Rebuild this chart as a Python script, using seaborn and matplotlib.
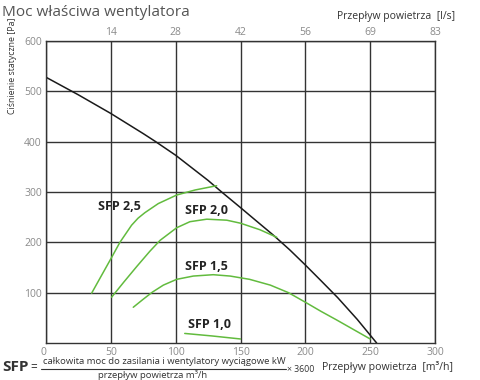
import matplotlib
matplotlib.use("Agg")
import matplotlib.pyplot as plt
import seaborn as sns
import pandas as pd
from matplotlib.lines import Line2D

# ---- data ----
fan_flow = [0, 25, 50, 75, 84, 100, 112, 125, 135, 150, 162, 175, 188, 200, 212, 225, 240, 255]
fan_pressure = [528, 493, 456, 416, 401, 373, 349, 323, 301, 269, 243, 215, 185, 155, 124, 90, 47, 0]

sfp25_flow = [35.2, 43, 50.6, 57, 66, 71, 76.3, 86.6, 100.8, 115, 131.6]
sfp25_pressure = [99, 135, 170, 200, 234, 248, 259, 277, 294, 304, 312.5]

sfp20_flow = [50.6, 60, 70, 80, 88, 100.8, 111, 124, 139.4, 150, 165, 178]
sfp20_pressure = [91, 121, 152, 182, 204, 229, 241, 246, 244, 238, 225, 210]

sfp15_flow = [67.3, 75, 82, 90.5, 100.8, 113.6, 129, 142, 157, 173, 187, 200, 212, 224, 237, 250]
sfp15_pressure = [71, 87, 101, 115, 126.5, 133, 135.7, 133, 126.5, 115, 100, 81, 63, 46, 27, 8]

sfp10_flow = [107, 128, 150]
sfp10_pressure = [19, 14, 8]

sfp_labels = ["SFP 2,5", "SFP 2,0", "SFP 1,5", "SFP 1,0"]
label_flow = [57, 124, 124, 126]
label_pressure = [272, 263, 152, 36]

x_ticks = [0, 50, 100, 150, 200, 250, 300]
y_ticks = [100, 200, 300, 400, 500, 600]
top_ticks = [50, 100, 150, 200, 250, 300]
top_tick_labels = ["14", "28", "42", "56", "69", "83"]

title = "Moc właściwa wentylatora"
ylabel = "Ciśnienie statyczne [Pa]"
xlabel = "Przepływ powietrza  [m³/h]"
top_label = "Przepływ powietrza  [l/s]"
formula_num = "całkowita moc do zasilania i wentylatory wyciągowe kW"
formula_den = "przepływ powietrza m³/h"

# ---- style ----
sns.set_style("white")
plt.rcParams["font.family"] = ["Open Sans", "DejaVu Sans"]

GREEN = "#62bb3e"
GRID = "#333333"
TICKC = "#8a8a8a"
TXT = "#333333"

fig = plt.figure(figsize=(4.8, 3.8), dpi=100)
ax = fig.add_axes([46 / 480, 1 - 343 / 380, (435 - 46) / 480, (343 - 41) / 380])

ax.set_xlim(0, 300)
ax.set_ylim(0, 600)
ax.set_xticks(x_ticks)
ax.set_yticks(y_ticks)
ax.grid(True, color=GRID, linewidth=1.0)
for s in ax.spines.values():
    s.set_color(GRID)
    s.set_linewidth(1.0)
ax.tick_params(axis="both", length=0, colors=TICKC, labelsize=7.5)
ax.tick_params(axis="x", pad=3)
ax.tick_params(axis="y", pad=3)

fan_df = pd.DataFrame({"flow": fan_flow, "p": fan_pressure})
sns.lineplot(data=fan_df, x="flow", y="p", ax=ax, color="#1a1a1a", linewidth=1.1,
             sort=False, estimator=None)
for fl, pr in [(sfp25_flow, sfp25_pressure), (sfp20_flow, sfp20_pressure),
               (sfp15_flow, sfp15_pressure), (sfp10_flow, sfp10_pressure)]:
    d = pd.DataFrame({"flow": fl, "p": pr})
    sns.lineplot(data=d, x="flow", y="p", ax=ax, color=GREEN, linewidth=1.1,
                 sort=False, estimator=None)

for lab, lx, ly in zip(sfp_labels, label_flow, label_pressure):
    ax.text(lx, ly, lab, ha="center", va="center", fontsize=9, fontweight="bold",
            color="#222222")

ax.set_xlabel("")
ax.set_ylabel("")
ax.get_xticklabels()[0].set_ha("right")

# top axis
ax2 = ax.twiny()
ax2.set_xlim(ax.get_xlim())
ax2.set_xticks(top_ticks)
ax2.set_xticklabels(top_tick_labels)
ax2.tick_params(axis="x", length=0, colors=TICKC, labelsize=7.5, pad=2)
for s in ax2.spines.values():
    s.set_visible(False)

# texts
fig.text(2 / 480, 1 - 16 / 380, title, ha="left", va="baseline", fontsize=11.1,
         color="#555555")
fig.text(455 / 480, 1 - 17 / 380, top_label, ha="right", va="center", fontsize=7.5,
         color=TXT)
fig.text(13 / 480, 1 - 66 / 380, ylabel, ha="center", va="center", rotation=90,
         fontsize=6.3, color=TXT)

fig.text(2 / 480, 1 - 367 / 380, "SFP", ha="left", va="center", fontsize=11,
         fontweight="bold", color=TXT)
fig.text(30 / 480, 1 - 368 / 380, "=", ha="left", va="center", fontsize=8.5,
         color=TXT)
fig.text(164 / 480, 1 - 362 / 380, formula_num, ha="center", va="center", fontsize=6.8,
         color=TXT)
fig.text(153 / 480, 1 - 375.5 / 380, formula_den, ha="center", va="center", fontsize=6.8,
         color=TXT)
fig.add_artist(Line2D([41 / 480, 286 / 480], [1 - 368.5 / 380, 1 - 368.5 / 380],
                      color=TXT, linewidth=0.8, transform=fig.transFigure))
fig.text(287 / 480, 1 - 370 / 380, "× 3600", ha="left", va="center", fontsize=6.3,
         color=TXT)
fig.text(322 / 480, 1 - 367 / 380, xlabel, ha="left", va="center", fontsize=7.6,
         color=TXT)

fig.savefig("out.png", dpi=100)
